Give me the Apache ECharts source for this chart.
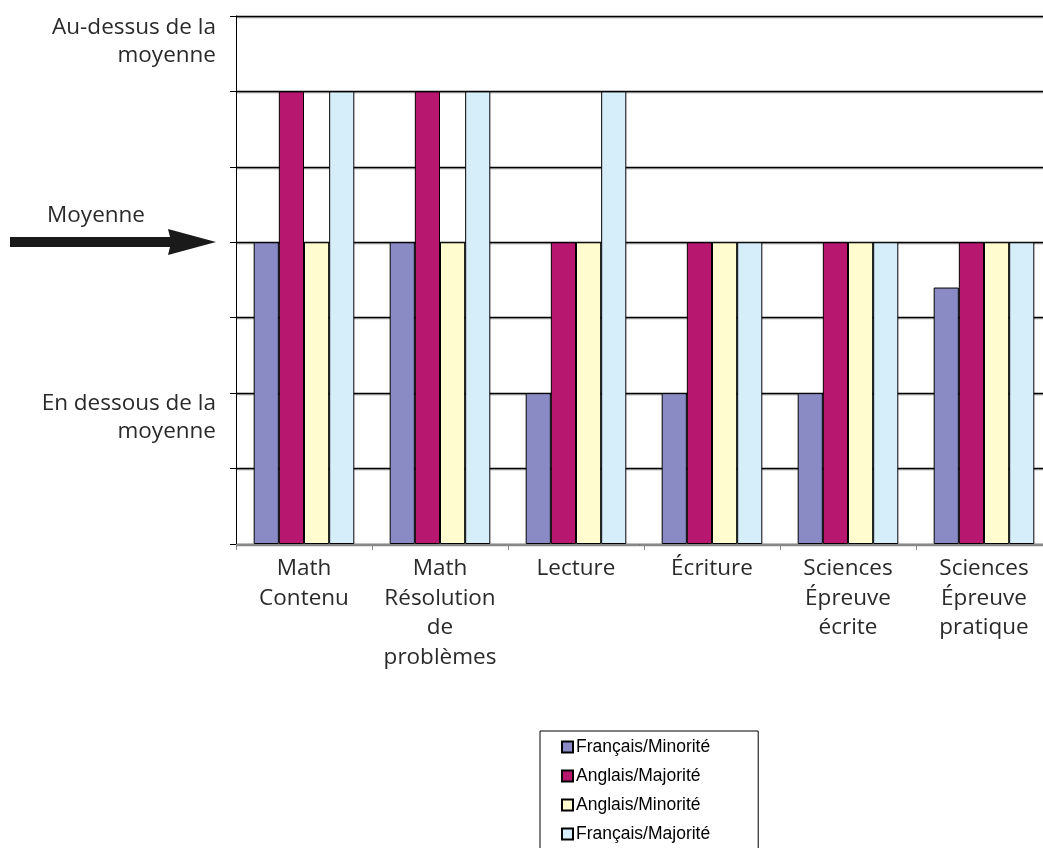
<!DOCTYPE html>
<html><head><meta charset="utf-8">
<script src="https://cdn.jsdelivr.net/npm/echarts@6/dist/echarts.min.js"></script>
<style>html,body{margin:0;padding:0;background:#fff}#c{width:1043px;height:848px}</style>
</head><body><div id="c"></div>
<script>
const categories = ['Math\nContenu', 'Math\nRésolution\nde\nproblèmes', 'Lecture', 'Écriture', 'Sciences\nÉpreuve\nécrite', 'Sciences\nÉpreuve\npratique'];
const seriesNames = ['Français/Minorité', 'Anglais/Majorité', 'Anglais/Minorité', 'Français/Majorité'];
const francaisMinorite = [4, 4, 2, 2, 2, 3.4];
const anglaisMajorite = [6, 6, 4, 4, 4, 4];
const anglaisMinorite = [4, 4, 4, 4, 4, 4];
const francaisMajorite = [6, 6, 6, 4, 4, 4];
const yLabels = ['Au-dessus de la\nmoyenne', 'Moyenne', 'En dessous de la\nmoyenne'];

const colors = ['#8A8AC4', '#B8176F', '#FFFDD0', '#D5EEF9'];
const values = [francaisMinorite, anglaisMajorite, anglaisMinorite, francaisMajorite];
const FONT = '"Open Sans"';
const FS = 22.5;

const chart = echarts.init(document.getElementById('c'), null, {renderer: 'canvas'});
chart.setOption({
  animation: false,
  grid: {left: 236, top: 16, width: 816, height: 528, containLabel: false, outerBoundsMode: 'none'},
  xAxis: {
    type: 'category', data: categories, boundaryGap: true,
    axisLine: {lineStyle: {color: '#888', width: 1}},
    axisTick: {show: true, length: 6, lineStyle: {color: '#888'}},
    axisLabel: {fontFamily: FONT, fontSize: FS, color: '#2a2a2a', lineHeight: 29.5, margin: 10, interval: 0, hideOverlap: false}
  },
  yAxis: {
    type: 'value', min: 0, max: 7, interval: 1,
    axisLine: {show: true, lineStyle: {color: '#000', width: 1}},
    axisTick: {show: true, length: 6, lineStyle: {color: '#000'}},
    axisLabel: {show: false},
    splitLine: {show: true, lineStyle: {color: '#000', width: 1.3, shadowColor: 'rgba(0,0,0,0.35)', shadowBlur: 1, shadowOffsetY: 1}}
  },
  legend: {
    orient: 'vertical', left: 540, top: 731, height: 140,
    padding: [6, 48, 10, 21],
    borderColor: '#000', borderWidth: 1, borderRadius: 0,
    itemWidth: 11, itemHeight: 11, itemGap: 9, icon: 'rect',
    textStyle: {fontFamily: 'Liberation Sans', fontSize: 17.5, lineHeight: 20, color: '#000', padding: [0, 0, 0, -2]},
    data: seriesNames
  },
  series: seriesNames.map((n, i) => ({
    name: n, type: 'bar', data: values[i],
    barGap: '0%', barCategoryGap: '26%',
    itemStyle: {color: colors[i], borderColor: '#000', borderWidth: 1}
  })),
  graphic: [
    {type: 'text', x: 216, y: 14, style: {text: yLabels[0], font: FS + 'px ' + FONT, fill: '#2a2a2a', align: 'right', lineHeight: 28}},
    {type: 'text', x: 145, y: 202, style: {text: yLabels[1], font: FS + 'px ' + FONT, fill: '#2a2a2a', align: 'right', lineHeight: 28}},
    {type: 'text', x: 216, y: 390, style: {text: yLabels[2], font: FS + 'px ' + FONT, fill: '#2a2a2a', align: 'right', lineHeight: 28}},
    {type: 'polygon', shape: {points: [[10, 237], [170, 237], [168, 229], [216, 242], [168, 255], [170, 247], [10, 247]]}, style: {fill: '#1a1a1a'}}
  ]
});
</script></body></html>
